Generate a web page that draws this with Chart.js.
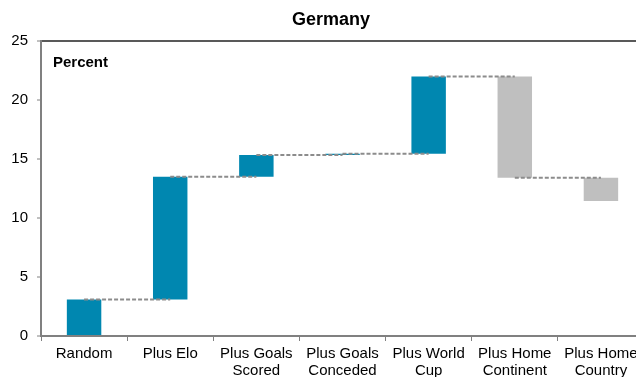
<!DOCTYPE html>
<html>
<head>
<meta charset="utf-8">
<script src="https://cdn.jsdelivr.net/npm/chart.js@4.4.1/dist/chart.umd.min.js"></script>
<style>
  html, body { margin: 0; padding: 0; background: #fff; overflow: hidden; }
  #wrap { width: 644px; height: 377px; }
</style>
</head>
<body>
<div id="wrap"><canvas id="chartCanvas" width="644" height="377"></canvas></div>
<script>
// categories and cumulative level after each step (percent)
const categories = [
  "Random",
  "Plus Elo",
  ["Plus Goals", "Scored"],
  ["Plus Goals", "Conceded"],
  ["Plus World", "Cup"],
  ["Plus Home", "Continent"],
  ["Plus Home", "Country"]
];
const levels = [3.1, 13.5, 15.33, 15.45, 22.0, 13.42, 11.45];
const yTicks = [0, 5, 10, 15, 20, 25];
const titleText = "Germany";
const noteText = "Percent";

const upColor = "#0087B0";
const downColor = "#BFBFBF";
const FONT = "'Liberation Sans', Arial, sans-serif";

// floating bars built from consecutive levels
const bars = [];
const colors = [];
let prev = 0;
levels.forEach(v => {
  bars.push([prev, v]);
  colors.push(v >= prev ? upColor : downColor);
  prev = v;
});

// dashed connectors between bar centres, title and the "Percent" note
const extras = {
  id: "extras",
  afterDatasetsDraw(chart) {
    const ctx = chart.ctx;
    const meta = chart.getDatasetMeta(0);
    const y = chart.scales.y;
    const area = chart.chartArea;
    ctx.save();
    ctx.strokeStyle = "#8C8C8C";
    ctx.lineWidth = 2;
    ctx.setLineDash([4, 2]);
    for (let i = 0; i < levels.length - 1; i++) {
      const py = y.getPixelForValue(levels[i]);
      ctx.beginPath();
      ctx.moveTo(meta.data[i].x, py);
      ctx.lineTo(meta.data[i + 1].x, py);
      ctx.stroke();
    }
    ctx.restore();

    ctx.save();
    ctx.fillStyle = "#000";
    ctx.textBaseline = "middle";
    ctx.font = "bold 15px " + FONT;
    ctx.fillText(noteText, area.left + 12, area.top + 22);
    ctx.font = "bold 18px " + FONT;
    ctx.textAlign = "center";
    ctx.fillText(titleText, 331, 20);
    ctx.restore();
  }
};

const ctx = document.getElementById("chartCanvas").getContext("2d");
new Chart(ctx, {
  type: "bar",
  data: {
    labels: categories,
    datasets: [{
      data: bars,
      backgroundColor: colors,
      borderWidth: 0,
      barPercentage: 0.4,
      categoryPercentage: 1.0
    }]
  },
  options: {
    responsive: false,
    animation: false,
    layout: { padding: { top: 41, right: 0, bottom: 0, left: 0 } },
    plugins: {
      legend: { display: false },
      tooltip: { enabled: false },
      title: { display: false }
    },
    scales: {
      x: {
        grid: {
          offset: true,
          drawOnChartArea: false,
          tickLength: 5,
          tickColor: "#808080",
          tickWidth: 1
        },
        border: { color: "#808080", width: 2 },
        ticks: {
          color: "#000",
          padding: 4,
          maxRotation: 0,
          autoSkip: false,
          font: { family: FONT, size: 15, lineHeight: 1.15 }
        },
        afterFit(scale) { scale.height = 41; }
      },
      y: {
        min: 0,
        max: 25,
        afterBuildTicks(scale) { scale.ticks = yTicks.map(v => ({ value: v })); },
        grid: {
          color: c => (c.tick && c.tick.value === 25 ? "#595959" : "rgba(0,0,0,0)"),
          lineWidth: 2,
          tickColor: "#808080",
          tickLength: 4,
          tickWidth: 1
        },
        border: { color: "#808080", width: 2 },
        ticks: {
          color: "#000",
          padding: 9,
          font: { family: FONT, size: 15 }
        },
        afterFit(scale) { scale.width = 41; }
      }
    }
  },
  plugins: [extras]
});
</script>
</body>
</html>
